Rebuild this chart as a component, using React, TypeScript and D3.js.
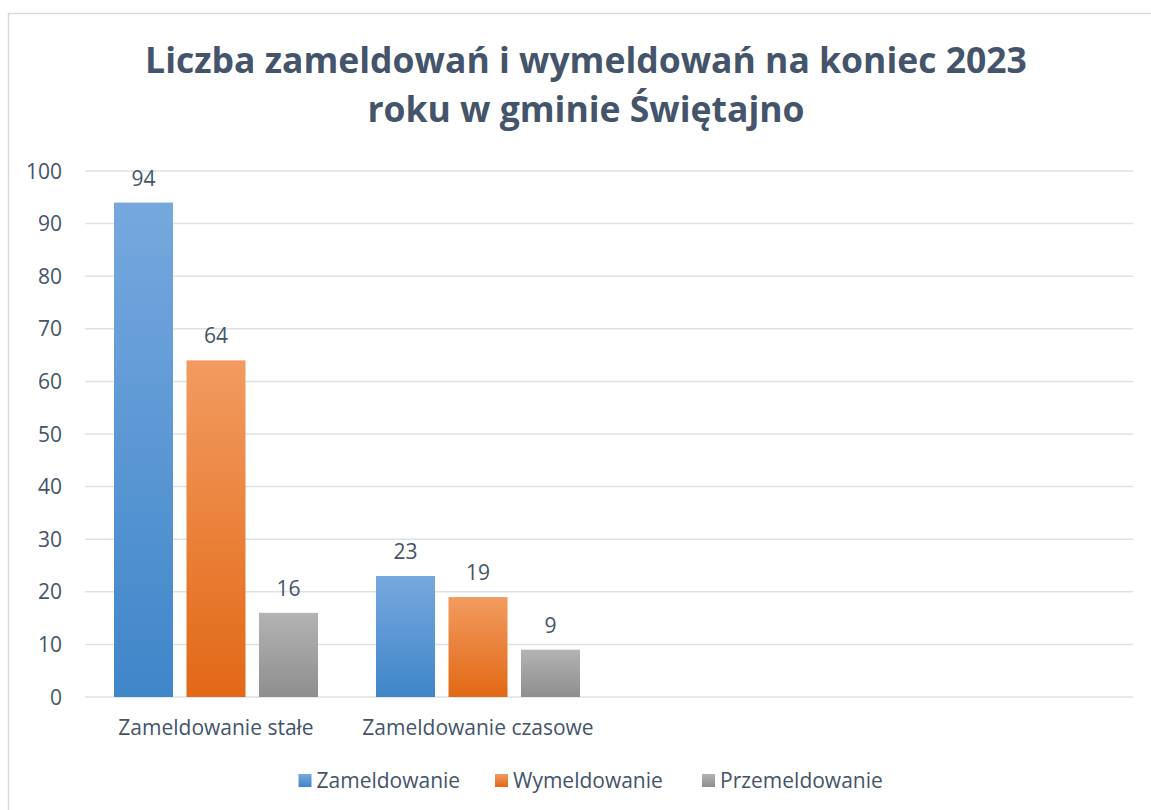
import React from "react";
import * as d3 from "d3";

const title = ["Liczba zameldowań i wymeldowań na koniec 2023", "roku w gminie Świętajno"];
const categories = ["Zameldowanie stałe", "Zameldowanie czasowe", "", ""];
const seriesNames = ["Zameldowanie", "Wymeldowanie", "Przemeldowanie"];
const zameldowanie = [94, 23, null, null];
const wymeldowanie = [64, 19, null, null];
const przemeldowanie = [16, 9, null, null];
const yTicks = [0, 10, 20, 30, 40, 50, 60, 70, 80, 90, 100];

const seriesValues = [zameldowanie, wymeldowanie, przemeldowanie];
const gradients = [
  ["#76A8DE", "#3F86C9"],
  ["#F29B60", "#E26815"],
  ["#B3B3B3", "#8E8E8E"],
];

const W = 1151;
const H = 810;
const TEXT = "#44546A";
const FONT = "'Open Sans', 'Noto Sans', sans-serif";

export default function App() {
  const x0 = d3
    .scaleBand<number>()
    .domain(categories.map((_, i) => i))
    .range([85, 1133])
    .paddingInner(0)
    .paddingOuter(0);
  const x1 = d3
    .scaleBand<number>()
    .domain(seriesNames.map((_, i) => i))
    .range([0, x0.bandwidth()])
    .paddingInner(0.186)
    .paddingOuter(0.4);
  const y = d3.scaleLinear().domain([0, 100]).range([697, 171]);

  return (
    <svg
      width={W}
      height={H}
      style={{ position: "absolute", left: 0, top: 0, fontFamily: FONT }}
    >
      <defs>
        {gradients.map((g, i) => (
          <linearGradient key={i} id={`grad${i}`} x1="0" y1="0" x2="0" y2="1">
            <stop offset="0%" stopColor={g[0]} />
            <stop offset="100%" stopColor={g[1]} />
          </linearGradient>
        ))}
      </defs>
      <rect x={0} y={0} width={W} height={H} fill="#fff" />
      <rect x={8.5} y={13.5} width={W} height={H} fill="none" stroke="#D9D9D9" strokeWidth={1.5} />

      {title.map((t, i) => (
        <text
          key={i}
          x={586}
          y={73 + i * 49}
          textAnchor="middle"
          fontWeight="bold"
          fontSize={35.5}
          fill={TEXT}
        >
          {t}
        </text>
      ))}

      {yTicks.map((t) => (
        <g key={t}>
          <line x1={85} x2={1133} y1={y(t)} y2={y(t)} stroke="#DCE1E9" strokeWidth={1.5} />
          <text x={62} y={y(t) + 7.5} textAnchor="end" fontSize={21} fill={TEXT}>
            {t}
          </text>
        </g>
      ))}

      {categories.map((c, ci) => (
        <g key={ci} transform={`translate(${x0(ci)},0)`}>
          {seriesValues.map((vals, si) => {
            const v = vals[ci];
            if (v == null) return null;
            return (
              <g key={si}>
                <rect
                  x={x1(si)}
                  y={y(v)}
                  width={x1.bandwidth()}
                  height={y(0) - y(v)}
                  fill={`url(#grad${si})`}
                />
                <text
                  x={(x1(si) as number) + x1.bandwidth() / 2}
                  y={y(v) - 17}
                  textAnchor="middle"
                  fontSize={21}
                  fill={TEXT}
                >
                  {v}
                </text>
              </g>
            );
          })}
          <text
            x={x0.bandwidth() / 2}
            y={735}
            textAnchor="middle"
            fontSize={21}
            fill={TEXT}
          >
            {c}
          </text>
        </g>
      ))}

      {seriesNames.map((s, i) => {
        const lx = [298.5, 495, 702][i];
        return (
          <g key={s}>
            <rect x={lx} y={774} width={13} height={13} fill={`url(#grad${i})`} />
            <text x={lx + 18} y={787.5} fontSize={21} fill={TEXT}>
              {s}
            </text>
          </g>
        );
      })}
    </svg>
  );
}
